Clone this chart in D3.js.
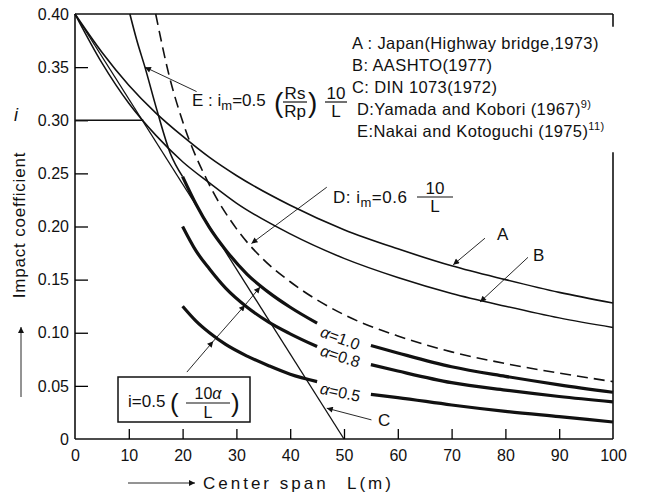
<!DOCTYPE html>
<html>
<head>
<meta charset="utf-8">
<script src="https://d3js.org/d3.v7.min.js"></script>
<style>
body { margin: 0; background: #fff; }
svg text { font-family: "Liberation Sans", Arial, sans-serif; fill: #111; }
.curve { fill: none; stroke: #111; stroke-linejoin: round; }
.arrow { stroke: #111; stroke-width: 0.9; fill: none; }
</style>
</head>
<body>
<div id="chart"></div>
<script>
// span L (m) against impact coefficient i
var xTicks = [0, 10, 20, 30, 40, 50, 60, 70, 80, 90, 100];
var yTicks = [0, 0.05, 0.10, 0.15, 0.20, 0.25, 0.30, 0.35, 0.40];

var curveA = [[0,0.400],[5,0.364],[10,0.333],[15,0.307],[20,0.285],[25,0.265],[30,0.248],[40,0.220],[50,0.197],[60,0.179],[70,0.163],[80,0.150],[90,0.138],[100,0.128]];
var curveB = [[0,0.400],[5,0.354],[10,0.316],[15,0.286],[20,0.261],[25,0.241],[30,0.222],[40,0.193],[50,0.170],[60,0.152],[70,0.137],[80,0.125],[90,0.114],[100,0.105]];
var capB = [[0,0.300],[12.7,0.300]];
var curveC = [[0,0.400],[50,0]];
var curveD = [[15,0.400],[17.5,0.342],[20,0.299],[25,0.239],[30,0.198],[35,0.169],[40,0.148],[50,0.117],[60,0.097],[70,0.082],[80,0.071],[90,0.062],[100,0.054]];
var curveE = [[10.2,0.400],[11.5,0.375],[13,0.350],[15.2,0.310],[17.7,0.269],[20,0.247]];
var alpha10 = [[20,0.247],[22.5,0.221],[25,0.199],[28,0.178],[32,0.155],[36,0.138],[40,0.124],[45,0.109],[55,0.088],[60,0.081],[70,0.068],[80,0.059],[90,0.051],[100,0.044]];
var alpha08 = [[20,0.200],[22.5,0.177],[25,0.160],[28,0.142],[32,0.124],[36,0.110],[40,0.099],[45,0.087],[55,0.070],[60,0.064],[70,0.053],[80,0.046],[90,0.040],[100,0.035]];
var alpha05 = [[20,0.125],[22.5,0.111],[25,0.100],[28,0.089],[32,0.078],[36,0.069],[40,0.061],[45,0.054],[55,0.042],[60,0.039],[70,0.032],[80,0.026],[90,0.021],[100,0.016]];

var legendText = ["A : Japan(Highway bridge,1973)", "B: AASHTO(1977)", "C: DIN 1073(1972)", "D:Yamada and Kobori (1967)", "E:Nakai and Kotoguchi (1975)"];
var legendSup = ["", "", "", "9)", "11)"];
var alphaText = ["1.0", "0.8", "0.5"];

var width = 658, height = 496;
var x = d3.scaleLinear().domain([0, 100]).range([75, 613]);
var y = d3.scaleLinear().domain([0, 0.4]).range([439, 14]);

var svg = d3.select("#chart").append("svg")
    .attr("width", width)
    .attr("height", height);

svg.append("defs").append("marker")
    .attr("id", "ah")
    .attr("viewBox", "0 0 10 10")
    .attr("refX", 10).attr("refY", 5)
    .attr("markerWidth", 9).attr("markerHeight", 6)
    .attr("markerUnits", "userSpaceOnUse")
    .attr("orient", "auto")
    .append("path").attr("d", "M0,0L10,5L0,10z").attr("fill", "#111");

var line = d3.line()
    .x(function (d) { return x(d[0]); })
    .y(function (d) { return y(d[1]); })
    .curve(d3.curveMonotoneX);

function drawCurve(data, w, dash) {
    var p = svg.append("path")
        .datum(data)
        .attr("class", "curve")
        .attr("stroke-width", w)
        .attr("d", line);
    if (dash) p.attr("stroke-dasharray", dash);
}

// frame
var frame = [
    [[0, 0], [0, 0.4]], [[0, 0], [100, 0]], [[0, 0.4], [100, 0.4]],
    [[100, 0.4], [100, 0.388]], [[100, 0.270], [100, 0]]
];
frame.forEach(function (f) {
    svg.append("line")
        .attr("x1", x(f[0][0])).attr("y1", y(f[0][1]))
        .attr("x2", x(f[1][0])).attr("y2", y(f[1][1]))
        .attr("stroke", "#111").attr("stroke-width", 1.6);
});

// axes
var gx = svg.append("g")
    .attr("transform", "translate(0," + y(0) + ")")
    .call(d3.axisBottom(x).tickValues(xTicks).tickSizeInner(-10).tickSizeOuter(0)
        .tickPadding(11).tickFormat(d3.format("d")));
gx.select(".domain").remove();
gx.selectAll(".tick line").attr("stroke-width", 1.3)
    .filter(function (d) { return d === 0 || d === 100; }).remove();

var gy = svg.append("g")
    .attr("transform", "translate(" + x(0) + ",0)")
    .call(d3.axisLeft(y).tickValues(yTicks).tickSizeInner(-13).tickSizeOuter(0)
        .tickPadding(6).tickFormat(function (d) { return d === 0 ? "0" : d3.format(".2f")(d); }));
gy.select(".domain").remove();
gy.selectAll(".tick line").attr("stroke-width", 1.3)
    .filter(function (d) { return d === 0 || d === 0.4; }).remove();

svg.selectAll(".tick text")
    .attr("font-size", 16)
    .attr("font-family", "Liberation Sans, Arial, sans-serif")
    .attr("fill", "#111");

// curves
drawCurve(curveA, 1.6);
drawCurve(curveB, 1.5);
drawCurve(capB, 1.5);
drawCurve(curveC, 1.3);
drawCurve(curveD, 1.6, "11,6");
drawCurve(curveE, 1.6);
[alpha10, alpha08, alpha05].forEach(function (a) {
    drawCurve(a.filter(function (d) { return d[0] <= 45; }), 3.2);
    drawCurve(a.filter(function (d) { return d[0] >= 55; }), 3.2);
});

// alpha labels on the gap of each thick curve
var alphaPos = [[49.3, 0.095, 20], [49.3, 0.078, 18], [49.3, 0.044, 12]];
alphaPos.forEach(function (p, k) {
    var t = svg.append("text")
        .attr("transform", "translate(" + x(p[0]) + "," + y(p[1]) + ") rotate(" + p[2] + ")")
        .attr("text-anchor", "middle")
        .attr("dy", "0.35em")
        .attr("font-size", 16);
    t.append("tspan").attr("font-style", "italic").text("α");
    t.append("tspan").text("=" + alphaText[k]);
});

// arrows (tail -> tip, in data units)
function arrow(pts) {
    for (var k = 1; k < pts.length; k++) {
        svg.append("line").attr("class", "arrow")
            .attr("x1", x(pts[k - 1][0])).attr("y1", y(pts[k - 1][1]))
            .attr("x2", x(pts[k][0])).attr("y2", y(pts[k][1]))
            .attr("marker-end", "url(#ah)");
    }
}
arrow([[22.6, 0.327], [13.0, 0.350]]);
arrow([[46.8, 0.237], [32.8, 0.184]]);
arrow([[76.2, 0.189], [70.3, 0.164]]);
arrow([[84.2, 0.171], [75.3, 0.129]]);
arrow([[55.1, 0.018], [46.8, 0.029]]);
arrow([[20.8, 0.063], [25.7, 0.092], [31.6, 0.126], [34.4, 0.143]]);

svg.append("text").attr("x", 497).attr("y", 240).attr("font-size", 17).text("A");
svg.append("text").attr("x", 533).attr("y", 261).attr("font-size", 17).text("B");
svg.append("text").attr("x", 378).attr("y", 426).attr("font-size", 17).text("C");

// legend
legendText.forEach(function (s, k) {
    var t = svg.append("text")
        .attr("x", k < 3 ? 352 : 357)
        .attr("y", 49 + k * 22)
        .attr("font-size", 16.5)
        .attr("letter-spacing", 0.4)
        .text(s);
    if (legendSup[k]) {
        t.append("tspan").attr("font-size", 11).attr("dy", -7).text(legendSup[k]);
    }
});

function frac(cx, cy, num, den, w, fs) {
    svg.append("line")
        .attr("x1", cx - w / 2).attr("x2", cx + w / 2)
        .attr("y1", cy).attr("y2", cy)
        .attr("stroke", "#111").attr("stroke-width", 1.2);
    svg.append("text").attr("x", cx).attr("y", cy - 3).attr("text-anchor", "middle")
        .attr("font-size", fs).text(num);
    svg.append("text").attr("x", cx).attr("y", cy + 15).attr("text-anchor", "middle")
        .attr("font-size", fs).text(den);
}

// E formula
var te = svg.append("text").attr("x", 192).attr("y", 106).attr("font-size", 17);
te.append("tspan").text("E : i");
te.append("tspan").attr("font-size", 13).attr("dy", 4).text("m");
te.append("tspan").attr("dy", -4).text("=0.5");
svg.append("text").attr("x", 274).attr("y", 112).attr("font-size", 28).attr("font-weight", 300).text("(");
frac(295, 102, "Rs", "Rp", 24, 17);
svg.append("text").attr("x", 308).attr("y", 112).attr("font-size", 28).attr("font-weight", 300).text(")");
frac(336, 102, "10", "L", 22, 17);

// D formula
var td = svg.append("text").attr("x", 333).attr("y", 203).attr("font-size", 17).attr("letter-spacing", 0.5);
td.append("tspan").text("D: i");
td.append("tspan").attr("font-size", 13).attr("dy", 4).text("m");
td.append("tspan").attr("dy", -4).text("=0.6");
frac(435, 197, "10", "L", 36, 17);

// boxed formula
svg.append("rect").attr("x", 118).attr("y", 377).attr("width", 132).attr("height", 45)
    .attr("fill", "none").attr("stroke", "#111").attr("stroke-width", 1.5);
svg.append("text").attr("x", 128).attr("y", 407).attr("font-size", 17).text("i=0.5");
svg.append("text").attr("x", 170).attr("y", 412).attr("font-size", 26).attr("font-weight", 300).text("(");
var tn = svg.append("text").attr("x", 208).attr("y", 399).attr("text-anchor", "middle").attr("font-size", 16);
tn.append("tspan").text("10");
tn.append("tspan").attr("font-style", "italic").text("α");
svg.append("line").attr("x1", 186).attr("x2", 230).attr("y1", 403).attr("y2", 403)
    .attr("stroke", "#111").attr("stroke-width", 1.2);
svg.append("text").attr("x", 208).attr("y", 418).attr("text-anchor", "middle").attr("font-size", 16).text("L");
svg.append("text").attr("x", 231).attr("y", 412).attr("font-size", 26).attr("font-weight", 300).text(")");

// axis titles
svg.append("text")
    .attr("transform", "translate(25,225) rotate(-90)")
    .attr("text-anchor", "middle")
    .attr("font-size", 17)
    .attr("letter-spacing", 0.8)
    .text("Impact coefficient");
svg.append("text").attr("x", 14).attr("y", 121).attr("font-size", 18).attr("font-style", "italic").text("i");
svg.append("line").attr("class", "arrow")
    .attr("x1", 21).attr("y1", 397).attr("x2", 21).attr("y2", 327)
    .attr("stroke-width", 1.3).attr("marker-end", "url(#ah)");

svg.append("line").attr("class", "arrow")
    .attr("x1", 128).attr("y1", 483).attr("x2", 195).attr("y2", 483)
    .attr("stroke-width", 1.3).attr("marker-end", "url(#ah)");
svg.append("text").attr("x", 203).attr("y", 489).attr("font-size", 17).attr("letter-spacing", 3).text("Center span");
svg.append("text").attr("x", 347).attr("y", 489).attr("font-size", 17).attr("letter-spacing", 3).text("L(m)");
</script>
</body>
</html>
